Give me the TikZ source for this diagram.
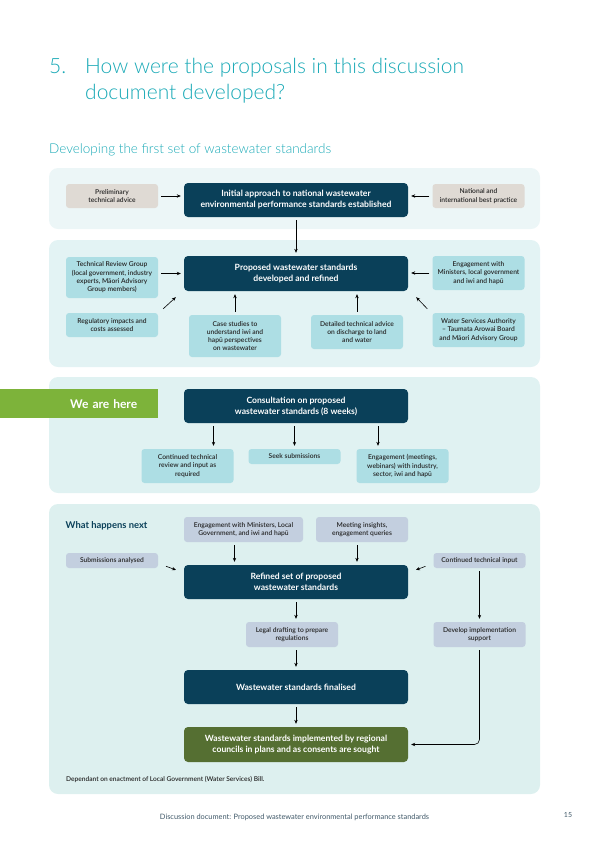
\documentclass[tikz,border=0pt]{standalone}
\usepackage{fontspec}
\setmainfont{Lato}
\newfontfamily\lightfont{Lato Light}
\newfontfamily\semifont{Lato Semibold}
\usepackage{xcolor}
\definecolor{wwteal}{HTML}{19A9B6}
\definecolor{wwdark}{HTML}{0A4059}
\definecolor{wwpanelA}{HTML}{ECF6F7}
\definecolor{wwpanelB}{HTML}{E3F3F4}
\definecolor{wwpanelC}{HTML}{E0F2F2}
\definecolor{wwpanelD}{HTML}{DDF0EF}
\definecolor{wwsand}{HTML}{DFDAD4}
\definecolor{wwsky}{HTML}{ADDEE4}
\definecolor{wwslate}{HTML}{C3CFDF}
\definecolor{wwgreen}{HTML}{7DB33A}
\definecolor{wwolive}{HTML}{556F32}
\definecolor{wwgrey}{HTML}{3F5868}
\usepackage{tikz}
\usetikzlibrary{arrows.meta, positioning, calc}

\tikzset{
  panel/.style={fill=#1, rounded corners=9pt},
  mainbox/.style={fill=wwdark, text=white, rounded corners=4pt, align=center,
    font=\fontsize{8.6}{11}\selectfont\bfseries,
    minimum width=224pt, minimum height=34pt, inner sep=2pt},
  sidebox/.style={fill=#1, text=black!85, rounded corners=3pt, align=center,
    font=\semifont\fontsize{6.7}{8.3}\selectfont,
    minimum width=92pt, inner sep=1.5pt},
  arr/.style={-{Stealth[length=4pt,width=3.4pt]}, line width=0.6pt,
    shorten <=3pt, shorten >=3pt},
}

\begin{document}
\begin{tikzpicture}[x=1pt, y=-1pt]
    \useasboundingbox (0,0) rectangle (597,844);
    % --- Title ---
    \begin{scope}[every node/.style={anchor=base west, inner sep=0pt, text=wwteal}]
      \node[font=\lightfont\fontsize{21}{26}\selectfont] (num) at (49,73) {5.};
      \node[font=\lightfont\fontsize{21}{26}\selectfont] (title1) at (85,73)
        {How were the proposals in this discussion};
      \node[font=\lightfont\fontsize{21}{26}\selectfont] (title2) at (85,99)
        {document developed?};
      \node[font=\lightfont\fontsize{13.5}{16}\selectfont] (subtitle) at (49,153)
        {Developing the first set of wastewater standards};
    \end{scope}
    % --- Panels ---
    \fill[panel=wwpanelA] (49,168) rectangle (540,229);
    \fill[panel=wwpanelB] (49,240) rectangle (540,367);
    \fill[panel=wwpanelC] (49,377) rectangle (540,493);
    \fill[panel=wwpanelD] (49,504) rectangle (540,794);
    % --- Stage 1: initial approach ---
    \node[mainbox] (initial) at (296,200)
      {Initial approach to national wastewater\\environmental performance standards established};
    \node[sidebox=wwsand, minimum height=24pt] (prelim) at (112,196)
      {Preliminary\\technical advice};
    \node[sidebox=wwsand, minimum height=24pt] (bestprac) at (478.5,196)
      {National and\\international best practice};
    \draw[arr] (prelim.east) -- (prelim.east -| initial.west);
    \draw[arr] (bestprac.west) -- (bestprac.west -| initial.east);
    % --- Stage 2: proposed standards ---
    \node[mainbox, minimum height=35pt] (proposed) at (296,273.5)
      {Proposed wastewater standards\\developed and refined};
    \node[sidebox=wwsky, minimum height=41pt] (review) at (112,277.5)
      {Technical Review Group\\(local government, industry\\experts, Māori Advisory\\Group members)};
    \node[sidebox=wwsky, minimum height=34pt] (ministers) at (478.5,273)
      {Engagement with\\Ministers, local government\\and iwi and hapū};
    \node[sidebox=wwsky, minimum height=24pt] (impacts) at (112,325)
      {Regulatory impacts and\\costs assessed};
    \node[sidebox=wwsky, minimum height=42pt] (cases) at (235,336)
      {Case studies to\\understand iwi and\\hapū perspectives\\on wastewater};
    \node[sidebox=wwsky, minimum height=34pt] (advice) at (357,332)
      {Detailed technical advice\\on discharge to land\\and water};
    \node[sidebox=wwsky, minimum height=34pt] (authority) at (478.5,330)
      {Water Services Authority\\– Taumata Arowai Board\\and Māori Advisory Group};
    \draw[arr] (initial.south) -- (proposed.north);
    \draw[arr] (review.east |- proposed.west) -- (proposed.west);
    \draw[arr] (ministers.west) -- (ministers.west -| proposed.east);
    \draw[arr, shorten <=0pt, shorten >=0pt] ([shift={(5pt,4pt)}]impacts.north east)
      -- ([shift={(-8pt,-6pt)}]proposed.south west);
    \draw[arr, shorten <=0pt, shorten >=0pt] ([shift={(-5pt,4pt)}]authority.north west)
      -- ([shift={(8pt,-6pt)}]proposed.south east);
    \draw[arr] (cases.north) -- (cases.north |- proposed.south);
    \draw[arr] (advice.north) -- (advice.north |- proposed.south);
    % --- Stage 3: consultation ---
    \node[fill=wwgreen, text=white, anchor=north west, minimum height=29pt,
      text width=116pt, inner xsep=21pt, align=right,
      font=\fontsize{12}{14}\selectfont\bfseries] (here) at (0,389) {We are here};
    \node[mainbox] (consult) at (296,406)
      {Consultation on proposed\\wastewater standards (8 weeks)};
    \node[sidebox=wwsky, minimum height=34pt] (continued) at (187.5,466)
      {Continued technical\\review and input as\\required};
    \node[sidebox=wwsky, minimum height=15pt] (seek) at (294.5,456.5)
      {Seek submissions};
    \node[sidebox=wwsky, minimum height=34pt] (meetings) at (402.5,466)
      {Engagement (meetings,\\webinars) with industry,\\sector, iwi and hapū};
    \draw[arr] ($(continued.north |- consult.south)+(26,0)$) -- ($(continued.north)+(26,0)$);
    \draw[arr] (seek.north |- consult.south) -- (seek.north);
    \draw[arr] ($(meetings.north |- consult.south)+(-24.5,0)$) -- ($(meetings.north)+(-24.5,0)$);
    % --- Stage 4: what happens next ---
    \node[anchor=west, inner sep=0pt, text=wwdark,
      font=\fontsize{9.4}{11}\selectfont\bfseries] (next) at (65.5,526) {What happens next};
    \node[sidebox=wwslate, minimum width=119pt, minimum height=25pt]
      (ministers2) at (243.5,529.5) {Engagement with Ministers, Local\\Government, and iwi and hapū};
    \node[sidebox=wwslate, minimum height=25pt] (insights) at (362,529.5)
      {Meeting insights,\\engagement queries};
    \node[sidebox=wwslate, minimum height=15pt] (analysed) at (112,560.5)
      {Submissions analysed};
    \node[sidebox=wwslate, minimum height=15pt] (techinput) at (479.5,560.5)
      {Continued technical input};
    \node[mainbox] (refined) at (296,582)
      {Refined set of proposed\\wastewater standards};
    \node[sidebox=wwslate, minimum height=25pt] (drafting) at (292,634.5)
      {Legal drafting to prepare\\regulations};
    \node[sidebox=wwslate, minimum height=25pt] (support) at (479.5,634.5)
      {Develop implementation\\support};
    \node[mainbox] (final) at (296,687) {Wastewater standards finalised};
    \node[mainbox, fill=wwolive, minimum height=35pt] (implemented) at (296,744.5)
      {Wastewater standards implemented by regional\\councils in plans and as consents are sought};
    \node[anchor=west, inner sep=0pt, text=black!85, font=\semifont\fontsize{6.6}{8}\selectfont]
      (note) at (66,779) {Dependant on enactment of Local Government (Water Services) Bill.};
    \draw[arr] ($(ministers2.south)+(-9,0)$) -- ($(ministers2.south |- refined.north)+(-9,0)$);
    \draw[arr] ($(insights.south)+(-5,0)$) -- ($(insights.south |- refined.north)+(-5,0)$);
    \draw[arr] ([shift={(5pt,3pt)}]analysed.south east) -- ([shift={(-5pt,11pt)}]refined.west);
    \draw[arr] ([shift={(-5pt,3pt)}]techinput.south west) -- ([shift={(5pt,11pt)}]refined.east);
    \draw[arr] (refined.south) -- (refined.south |- drafting.north);
    \draw[arr] (techinput.south) -- (support.north);
    \draw[arr] (final.north |- drafting.south) -- (final.north);
    \draw[arr] (final.south) -- (implemented.north);
    \draw[arr, rounded corners=5pt] (support.south) |- (implemented.east);
    % --- Footer ---
    \node[text=wwgrey, font=\fontsize{7.4}{9}\selectfont] (footer) at (294.5,817)
      {Discussion document: Proposed wastewater environmental performance standards};
    \node[text=wwgrey, font=\fontsize{7}{8}\selectfont] (page) at (568,815) {15};
\end{tikzpicture}
\end{document}
